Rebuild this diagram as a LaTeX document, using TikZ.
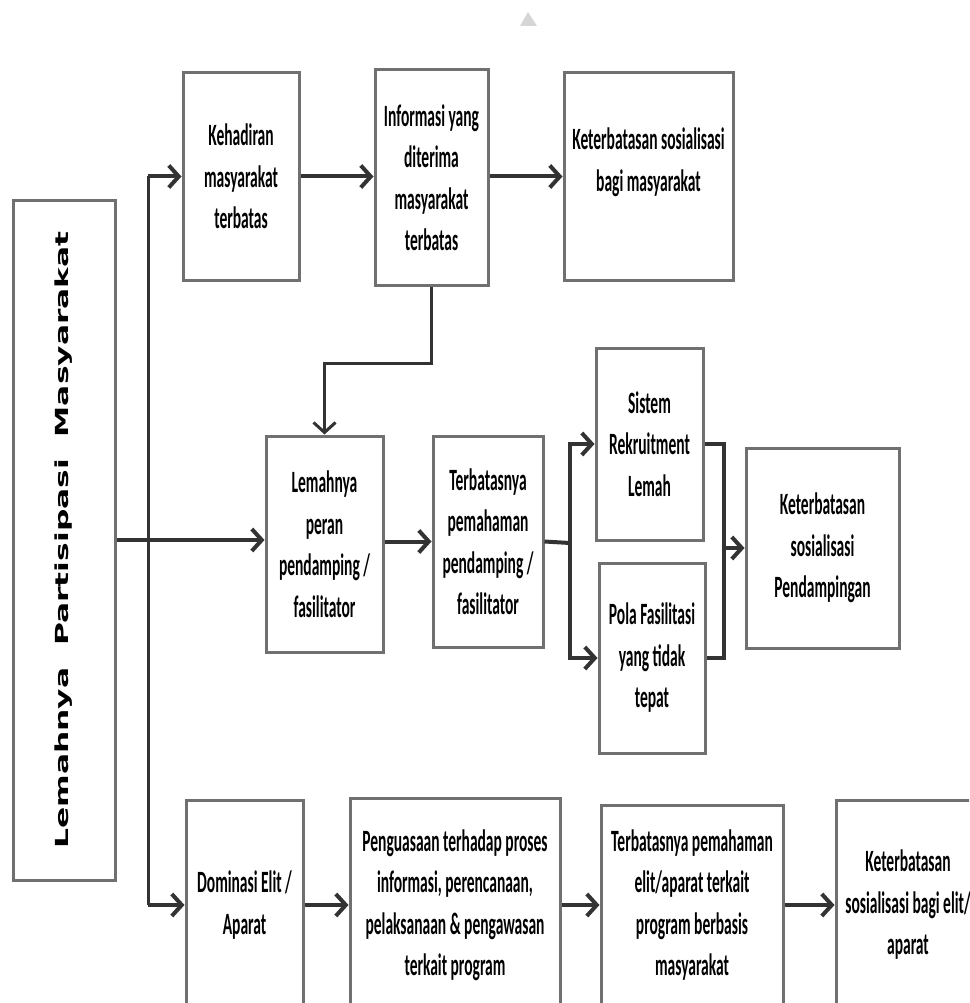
\documentclass[tikz,border=0pt]{standalone}
\usepackage{fontspec}
\usepackage{graphicx}
\usetikzlibrary{arrows.meta}
\newfontfamily\boxfont[FakeStretch=0.5]{Carlito}
\newfontfamily\sidefont{DejaVu Sans}
\definecolor{boxgray}{HTML}{707070}
\definecolor{arrgray}{HTML}{333333}
\definecolor{markgray}{HTML}{D6D6D6}
\begin{document}
\begin{tikzpicture}[x=1pt,y=-1pt,
  box/.style={draw=boxgray, line width=3pt, fill=white, inner sep=0pt, align=center,
    font=\boxfont\bfseries\fontsize{31}{41.5}\selectfont},
  arr/.style={draw=arrgray, line width=4pt, -{Straight Barb[length=10pt,width=22pt]}},
  ln/.style={draw=arrgray, line width=3pt},
  sidetext/.style={rotate=90, inner sep=0pt, font=\sidefont\bfseries\fontsize{18}{18}\selectfont}]
\useasboundingbox (0,0) rectangle (969,1003);
\clip (0,0) rectangle (969,1003);
\fill[white] (0,0) rectangle (969,1003);
\fill[markgray] (520,26) -- (528,12) -- (537,26) -- cycle;

% left box
\node[box, minimum width=102pt, minimum height=680pt] (L) at (64,540) {};
\node[sidetext] (Lt) at (L.center) {\scalebox{1.74}[1]{Lemahnya\ \ Partisipasi\ \ Masyarakat}};

% top row
\node[box, minimum width=116pt, minimum height=207pt] (kh) at (241,176.5) {Kehadiran\\masyarakat\\terbatas};
\node[box, minimum width=113pt, minimum height=215pt] (inf) at (431.5,177.5) {Informasi yang\\diterima\\masyarakat\\terbatas};
\node[box, minimum width=169pt, minimum height=207pt] (ket1) at (648.5,176.5) {Keterbatasan sosialisasi\\bagi masyarakat\\[-8pt]\mbox{}};

% middle row
\node[box, minimum width=117pt, minimum height=216pt] (lp) at (324.5,544) {Lemahnya\\peran\\pendamping /\\fasilitator};
\node[box, minimum width=110pt, minimum height=211pt] (tp) at (488,541.5) {Terbatasnya\\pemahaman\\pendamping /\\fasilitator};
\node[box, minimum width=107pt, minimum height=192pt] (sis) at (649.5,444) {Sistem\\Rekruitment\\Lemah};
\node[box, minimum width=106pt, minimum height=190pt] (pola) at (652,658) {Pola Fasilitasi\\yang tidak\\tepat};
\node[box, minimum width=153pt, minimum height=200pt] (kp) at (822.5,548) {Keterbatasan\\sosialisasi\\Pendampingan};

% bottom row
\node[box, minimum width=117pt, minimum height=210pt] (dom) at (244.5,905) {Dominasi Elit /\\Aparat};
\node[box, minimum width=210pt, minimum height=214pt] (peng) at (455,905) {Penguasaan terhadap proses\\informasi, perencanaan,\\pelaksanaan \& pengawasan\\terkait program};
\node[box, minimum width=182pt, minimum height=200pt] (tel) at (692,905) {Terbatasnya pemahaman\\elit/aparat terkait\\program berbasis\\masyarakat};
\node[box, minimum width=144pt, minimum height=210pt] (kel) at (908,905) {Keterbatasan\\sosialisasi bagi elit/\\aparat};

% junction points
\coordinate (tr) at (148,540);
\coordinate (br) at (570,543);
\coordinate (jn) at (724,548);

% connectors
\draw[ln] (tr |- kh.west) -- (tr |- dom.west);
\draw[arr] (tr |- kh.west) -- (kh.west);
\draw[arr] (tr |- dom.west) -- (dom.west);
\draw[arr] (L.east) -- (L.east -| lp.west);
\draw[arr] (kh.east) -- (kh.east -| inf.west);
\draw[arr] (inf.east |- kh.east) -- (ket1.west |- kh.east);
\draw[arr, line width=3pt] (inf.south) -- ++(0,77) -| (lp.north);
\draw[arr] (lp.east |- tp.east) -- (tp.west);
\draw[ln, line width=4pt] (tp.east) -- (br);
\draw[arr] (br) |- (sis.west);
\draw[arr] (br) |- (pola.west);
\draw[ln, line width=4pt] (sis.east) -| (jn);
\draw[ln, line width=4pt] (pola.east) -| (jn);
\draw[arr] (jn) -- (jn -| kp.west);
\draw[arr] (dom.east) -- (peng.west |- dom.east);
\draw[arr] (peng.east |- dom.east) -- (tel.west |- dom.east);
\draw[arr] (tel.east |- dom.east) -- (kel.west |- dom.east);
\end{tikzpicture}
\end{document}
